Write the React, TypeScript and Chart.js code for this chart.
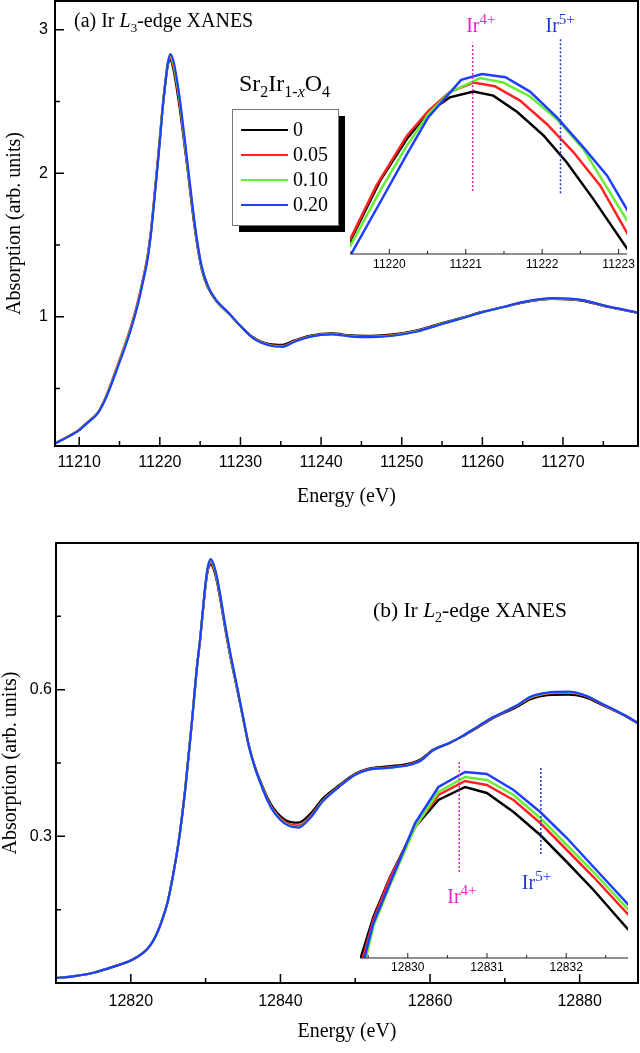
import React, { useEffect, useRef } from 'react';
import { Chart, registerables } from 'chart.js';

Chart.register(...registerables);

const SERIF = '"Liberation Serif", "Times New Roman", serif';
const SANS = '"Liberation Sans", Arial, sans-serif';

// ---------- series ----------
const SERIES_LABELS = ['0', '0.05', '0.10', '0.20'];
const SERIES_COLORS = ['#000000', '#ff2222', '#66ee33', '#1f3fff'];

// ---------- (a) Ir L3-edge, main ----------
const L3_ENERGY = [11207, 11208.5, 11210, 11211.2, 11212.3, 11213.2, 11214, 11214.8, 11215.6, 11216.4, 11217.2, 11217.9, 11218.5, 11218.9, 11219.4, 11219.9, 11220.3, 11220.7, 11221.0, 11221.3, 11221.7, 11222.1, 11222.5, 11223.0, 11223.5, 11224.0, 11224.5, 11225.2, 11226, 11227, 11228.6, 11230.1, 11231.6, 11233.6, 11235.2, 11236.7, 11238.7, 11241.3, 11243.8, 11246.3, 11248.9, 11251.9, 11255, 11257.5, 11260, 11262.6, 11265.1, 11268.7, 11272.3, 11275.3, 11279.3];
const L3_X000 = [0.120, 0.162, 0.213, 0.272, 0.330, 0.425, 0.537, 0.660, 0.785, 0.920, 1.080, 1.252, 1.420, 1.590, 1.873, 2.170, 2.425, 2.630, 2.755, 2.790, 2.720, 2.590, 2.440, 2.220, 2.000, 1.760, 1.550, 1.330, 1.200, 1.110, 1.020, 0.932, 0.856, 0.810, 0.805, 0.836, 0.869, 0.884, 0.870, 0.867, 0.877, 0.906, 0.956, 0.994, 1.034, 1.068, 1.100, 1.124, 1.113, 1.072, 1.028];
const L3_X005 = [0.120, 0.163, 0.214, 0.274, 0.333, 0.430, 0.545, 0.670, 0.795, 0.930, 1.090, 1.262, 1.435, 1.605, 1.890, 2.190, 2.440, 2.645, 2.770, 2.800, 2.740, 2.620, 2.470, 2.240, 2.010, 1.775, 1.560, 1.338, 1.205, 1.113, 1.021, 0.931, 0.853, 0.805, 0.798, 0.831, 0.866, 0.881, 0.866, 0.862, 0.872, 0.902, 0.953, 0.992, 1.033, 1.068, 1.102, 1.127, 1.116, 1.074, 1.029];
const L3_X010 = [0.119, 0.161, 0.212, 0.271, 0.329, 0.424, 0.536, 0.660, 0.783, 0.918, 1.076, 1.247, 1.417, 1.588, 1.870, 2.170, 2.430, 2.642, 2.772, 2.815, 2.760, 2.640, 2.490, 2.260, 2.020, 1.790, 1.570, 1.344, 1.208, 1.114, 1.022, 0.930, 0.851, 0.802, 0.794, 0.828, 0.864, 0.880, 0.864, 0.860, 0.870, 0.900, 0.951, 0.991, 1.032, 1.068, 1.103, 1.128, 1.117, 1.075, 1.029];
const L3_X020 = [0.118, 0.160, 0.211, 0.270, 0.327, 0.420, 0.530, 0.652, 0.775, 0.910, 1.068, 1.240, 1.408, 1.578, 1.860, 2.160, 2.420, 2.640, 2.770, 2.830, 2.780, 2.660, 2.510, 2.280, 2.040, 1.800, 1.580, 1.350, 1.210, 1.116, 1.023, 0.930, 0.850, 0.800, 0.790, 0.826, 0.862, 0.878, 0.862, 0.858, 0.868, 0.898, 0.950, 0.990, 1.032, 1.068, 1.104, 1.130, 1.118, 1.076, 1.030];
const L3_X_TICKS = [11210, 11220, 11230, 11240, 11250, 11260, 11270];
const L3_X_MINOR = [11215, 11225, 11235, 11245, 11255, 11265, 11275];
const L3_Y_TICKS = [1, 2, 3];
const L3_Y_MINOR = [0.5, 1.5, 2.5];

// ---------- (a) inset ----------
const L3I_E000 = [11219.48, 11219.88, 11220.23, 11220.51, 11220.79, 11221.10, 11221.36, 11221.67, 11222.02, 11222.32, 11222.67, 11223.12];
const L3I_X000 = [2.426, 2.563, 2.656, 2.715, 2.748, 2.761, 2.752, 2.716, 2.663, 2.604, 2.522, 2.410];
const L3I_E005 = [11219.48, 11219.83, 11220.23, 11220.51, 11220.79, 11221.10, 11221.38, 11221.71, 11222.06, 11222.41, 11222.76, 11223.12];
const L3I_X005 = [2.430, 2.552, 2.663, 2.718, 2.760, 2.781, 2.773, 2.741, 2.689, 2.626, 2.552, 2.444];
const L3I_E010 = [11219.48, 11219.88, 11220.23, 11220.51, 11220.79, 11221.19, 11221.49, 11221.84, 11222.19, 11222.54, 11223.12];
const L3I_X010 = [2.415, 2.541, 2.641, 2.711, 2.759, 2.791, 2.781, 2.750, 2.700, 2.633, 2.472];
const L3I_E020 = [11219.50, 11219.88, 11220.23, 11220.51, 11220.79, 11220.94, 11221.21, 11221.52, 11221.84, 11222.19, 11222.54, 11222.85, 11223.12];
const L3I_X020 = [2.400, 2.515, 2.622, 2.704, 2.758, 2.787, 2.800, 2.793, 2.761, 2.704, 2.637, 2.574, 2.496];
const L3I_X_TICKS = [11220, 11221, 11222, 11223];
const L3I_X_MINOR = [11219.5, 11220.5, 11221.5, 11222.5];
const L3I_IR4 = { e: 11221.09, y: [2.54, 2.87] };
const L3I_IR5 = { e: 11222.24, y: [2.535, 2.88] };

// ---------- (b) Ir L2-edge, main ----------
const L2_ENERGY = [12810, 12812.5, 12815, 12817.8, 12820, 12821.6, 12822.5, 12823.3, 12824.1, 12824.9, 12825.7, 12826.5, 12827.3, 12828.2, 12828.8, 12829.3, 12829.7, 12830.1, 12830.4, 12830.7, 12831.1, 12831.5, 12832, 12832.5, 12833.3, 12834.2, 12835, 12835.8, 12836.6, 12837.5, 12838.3, 12839.1, 12840.7, 12842.4, 12844, 12845.7, 12847.9, 12850, 12851.7, 12854.4, 12857.2, 12858.8, 12860.4, 12862.6, 12864.3, 12866.4, 12868.6, 12871.4, 12873.5, 12875.7, 12878.5, 12880.6, 12883.4, 12886.1, 12888];
const L2_X000 = [0.010, 0.014, 0.021, 0.034, 0.046, 0.061, 0.075, 0.095, 0.125, 0.164, 0.225, 0.300, 0.400, 0.539, 0.640, 0.707, 0.770, 0.826, 0.850, 0.856, 0.845, 0.822, 0.781, 0.735, 0.668, 0.602, 0.542, 0.484, 0.442, 0.406, 0.378, 0.357, 0.333, 0.328, 0.346, 0.378, 0.405, 0.428, 0.438, 0.443, 0.449, 0.458, 0.477, 0.491, 0.504, 0.523, 0.543, 0.563, 0.581, 0.589, 0.590, 0.585, 0.566, 0.546, 0.529];
const L2_X005 = [0.010, 0.014, 0.021, 0.034, 0.046, 0.061, 0.075, 0.095, 0.125, 0.164, 0.225, 0.300, 0.400, 0.539, 0.640, 0.708, 0.772, 0.828, 0.853, 0.860, 0.849, 0.826, 0.785, 0.738, 0.671, 0.604, 0.543, 0.484, 0.441, 0.404, 0.375, 0.353, 0.329, 0.322, 0.341, 0.374, 0.403, 0.427, 0.437, 0.441, 0.447, 0.456, 0.476, 0.491, 0.505, 0.524, 0.544, 0.565, 0.584, 0.592, 0.594, 0.588, 0.567, 0.547, 0.530];
const L2_X010 = [0.010, 0.014, 0.021, 0.034, 0.046, 0.061, 0.075, 0.095, 0.125, 0.164, 0.225, 0.300, 0.400, 0.539, 0.640, 0.709, 0.774, 0.830, 0.856, 0.864, 0.852, 0.829, 0.788, 0.741, 0.673, 0.606, 0.544, 0.484, 0.440, 0.403, 0.373, 0.351, 0.326, 0.319, 0.339, 0.373, 0.402, 0.426, 0.436, 0.440, 0.446, 0.455, 0.476, 0.491, 0.505, 0.525, 0.545, 0.566, 0.585, 0.593, 0.595, 0.589, 0.568, 0.547, 0.530];
const L2_X020 = [0.010, 0.014, 0.021, 0.034, 0.046, 0.061, 0.075, 0.095, 0.125, 0.164, 0.225, 0.300, 0.400, 0.539, 0.640, 0.709, 0.775, 0.832, 0.858, 0.867, 0.855, 0.832, 0.790, 0.743, 0.675, 0.607, 0.545, 0.484, 0.440, 0.402, 0.372, 0.350, 0.325, 0.318, 0.338, 0.372, 0.402, 0.426, 0.436, 0.440, 0.446, 0.455, 0.476, 0.491, 0.505, 0.525, 0.545, 0.566, 0.586, 0.594, 0.596, 0.589, 0.568, 0.547, 0.530];
const L2_X_TICKS = [12820, 12840, 12860, 12880];
const L2_X_MINOR = [12830, 12850, 12870];
const L2_Y_TICKS = [0.3, 0.6];
const L2_Y_MINOR = [0.15, 0.45, 0.75];

// ---------- (b) inset ----------
const L2I_E000 = [12829.406, 12829.566, 12829.777, 12830.093, 12830.387, 12830.724, 12830.998, 12831.335, 12831.672, 12832.008, 12832.345, 12832.787];
const L2I_X000 = [0.680, 0.721, 0.761, 0.811, 0.838, 0.851, 0.845, 0.826, 0.803, 0.776, 0.748, 0.708];
const L2I_E005 = [12829.430, 12829.566, 12829.777, 12830.093, 12830.387, 12830.724, 12830.998, 12831.335, 12831.672, 12832.008, 12832.345, 12832.787];
const L2I_X005 = [0.679, 0.718, 0.760, 0.811, 0.843, 0.857, 0.853, 0.838, 0.815, 0.788, 0.761, 0.723];
const L2I_E010 = [12829.470, 12829.566, 12829.777, 12830.093, 12830.387, 12830.724, 12830.998, 12831.335, 12831.672, 12832.008, 12832.345, 12832.787];
const L2I_X010 = [0.679, 0.712, 0.753, 0.811, 0.846, 0.861, 0.858, 0.843, 0.820, 0.793, 0.766, 0.728];
const L2I_E020 = [12829.450, 12829.566, 12829.777, 12830.093, 12830.387, 12830.724, 12830.998, 12831.335, 12831.672, 12832.008, 12832.345, 12832.787];
const L2I_X020 = [0.679, 0.715, 0.755, 0.815, 0.851, 0.866, 0.864, 0.848, 0.826, 0.800, 0.771, 0.733];
const L2I_X_TICKS = [12830, 12831, 12832];
const L2I_X_MINOR = [12829.5, 12830.5, 12831.5, 12832.5];
const L2I_IR4 = { e: 12830.65, y: [0.766, 0.876] };
const L2I_IR5 = { e: 12831.68, y: [0.784, 0.872] };

const IR4_COLOR = '#ea22c8';
const IR5_COLOR = '#2238d0';

// ---------- helpers ----------
type Seg = { t: string; size: number; italic?: boolean; dy?: number };

function drawRich(ctx: CanvasRenderingContext2D, x: number, y: number, segs: Seg[], color: string) {
  let cx = x;
  ctx.textBaseline = 'alphabetic';
  ctx.textAlign = 'left';
  ctx.fillStyle = color;
  for (const s of segs) {
    ctx.font = `${s.italic ? 'italic ' : ''}${s.size}px ${SERIF}`;
    ctx.fillText(s.t, cx, y + (s.dy || 0));
    cx += ctx.measureText(s.t).width;
  }
}

function pts(xs: number[], ys: number[]) {
  return xs.map((x, i) => ({ x, y: ys[i] }));
}

function curveSets(xsList: number[][], ysList: number[][], width: number, smooth: boolean) {
  return SERIES_LABELS.map((label, i) => ({
    label,
    data: pts(xsList[i], ysList[i]),
    borderColor: SERIES_COLORS[i],
    backgroundColor: SERIES_COLORS[i],
    borderWidth: width,
    pointRadius: 0,
    fill: false,
    tension: smooth ? 0.4 : 0,
    cubicInterpolationMode: smooth ? 'monotone' : 'default',
    order: 3 - i,
  }));
}

function dottedSet(mark: { e: number; y: number[] }, color: string) {
  return {
    label: '',
    data: [{ x: mark.e, y: mark.y[0] }, { x: mark.e, y: mark.y[1] }],
    borderColor: color,
    borderWidth: 1.5,
    borderDash: [2, 2],
    pointRadius: 0,
    fill: false,
    order: -1,
  };
}

type DecorCfg = {
  frame: boolean;
  xMinor: number[];
  yMinor?: number[];
  majorLen: number;
  minorLen: number;
  tickWidth: number;
  lineWidth: number;
  lineColor: string;
  extra?: (chart: any) => void;
};

function decorPlugin(cfg: DecorCfg) {
  return {
    id: 'decor',
    afterDraw(chart: any) {
      const { ctx, chartArea: a, scales } = chart;
      const xs = scales.x;
      const ys = scales.y;
      ctx.save();
      ctx.strokeStyle = cfg.lineColor;
      ctx.lineWidth = cfg.lineWidth;
      ctx.beginPath();
      if (cfg.frame) ctx.rect(a.left, a.top, a.right - a.left, a.bottom - a.top);
      else {
        ctx.moveTo(a.left, a.bottom);
        ctx.lineTo(a.right, a.bottom);
      }
      ctx.stroke();
      ctx.lineWidth = cfg.tickWidth;
      ctx.beginPath();
      const tickX = (v: number, len: number) => {
        const p = xs.getPixelForValue(v);
        ctx.moveTo(p, a.bottom);
        ctx.lineTo(p, a.bottom - len);
      };
      xs.ticks.forEach((t: any) => tickX(t.value, cfg.majorLen));
      cfg.xMinor.forEach((v) => tickX(v, cfg.minorLen));
      if (cfg.yMinor) {
        const tickY = (v: number, len: number) => {
          const p = ys.getPixelForValue(v);
          ctx.moveTo(a.left, p);
          ctx.lineTo(a.left + len, p);
        };
        ys.ticks.forEach((t: any) => tickY(t.value, cfg.majorLen));
        cfg.yMinor.forEach((v) => tickY(v, cfg.minorLen));
      }
      ctx.stroke();
      if (cfg.extra) cfg.extra(chart);
      ctx.restore();
    },
  };
}

function mainOptions(p: {
  xMin: number; xMax: number; yMin: number; yMax: number;
  xTicks: number[]; yTicks: number[];
  xHeight: number; yWidth: number; top: number;
  xTickPad: number; yTickPad: number; xTitlePad: number; yTitlePad: number;
}) {
  return {
    animation: false,
    responsive: false,
    events: [],
    layout: { padding: { top: p.top, right: 2, left: 0, bottom: 0 } },
    plugins: { legend: { display: false }, tooltip: { enabled: false } },
    scales: {
      x: {
        type: 'linear',
        bounds: 'data',
        min: p.xMin,
        max: p.xMax,
        afterBuildTicks: (s: any) => { s.ticks = p.xTicks.map((v) => ({ value: v })); },
        afterFit: (s: any) => { s.height = p.xHeight; s.paddingLeft = 0; s.paddingRight = 0; },
        grid: { display: false, drawTicks: false },
        border: { display: false },
        ticks: {
          autoSkip: false, maxRotation: 0, padding: p.xTickPad, color: '#000',
          font: { family: SANS, size: 16 },
          callback: (v: any) => String(v),
        },
        title: {
          display: true, text: 'Energy (eV)', color: '#000',
          font: { family: SERIF, size: 20 }, padding: { top: 0, bottom: p.xTitlePad },
        },
      },
      y: {
        type: 'linear',
        bounds: 'data',
        min: p.yMin,
        max: p.yMax,
        afterBuildTicks: (s: any) => { s.ticks = p.yTicks.map((v) => ({ value: v })); },
        afterFit: (s: any) => { s.width = p.yWidth; s.paddingTop = 0; s.paddingBottom = 0; },
        grid: { display: false, drawTicks: false },
        border: { display: false },
        ticks: {
          padding: p.yTickPad, color: '#000',
          font: { family: SANS, size: 16 },
          callback: (v: any) => String(v),
        },
        title: {
          display: true, text: 'Absorption (arb. units)', color: '#000',
          font: { family: SERIF, size: 20 }, padding: { top: p.yTitlePad, bottom: 0 },
        },
      },
    },
  };
}

function insetOptions(p: {
  xMin: number; xMax: number; yMin: number; yMax: number; xTicks: number[];
  top: number; left: number; right: number; xHeight: number; tickPad: number;
}) {
  return {
    animation: false,
    responsive: false,
    events: [],
    layout: { padding: { top: p.top, right: p.right, left: p.left, bottom: 0 } },
    plugins: { legend: { display: false }, tooltip: { enabled: false } },
    scales: {
      x: {
        type: 'linear',
        bounds: 'data',
        min: p.xMin,
        max: p.xMax,
        afterBuildTicks: (s: any) => { s.ticks = p.xTicks.map((v) => ({ value: v })); },
        afterFit: (s: any) => { s.height = p.xHeight; s.paddingLeft = 0; s.paddingRight = 0; },
        grid: { display: false, drawTicks: false },
        border: { display: false },
        ticks: {
          autoSkip: false, maxRotation: 0, padding: p.tickPad, color: '#000',
          font: { family: SANS, size: 12 },
          callback: (v: any) => String(v),
        },
      },
      y: { type: 'linear', display: false, bounds: 'data', min: p.yMin, max: p.yMax },
    },
  };
}

const TITLE_A: Seg[] = [
  { t: '(a) Ir ', size: 20 },
  { t: 'L', size: 20, italic: true },
  { t: '3', size: 13, dy: 5 },
  { t: '-edge XANES', size: 20 },
];
const TITLE_B: Seg[] = [
  { t: '(b) Ir ', size: 21.5 },
  { t: 'L', size: 21.5, italic: true },
  { t: '2', size: 14, dy: 5 },
  { t: '-edge XANES', size: 21.5 },
];
const FORMULA: Seg[] = [
  { t: 'Sr', size: 24 },
  { t: '2', size: 16, dy: 6 },
  { t: 'Ir', size: 24 },
  { t: '1-', size: 16, dy: 6 },
  { t: 'x', size: 16, italic: true, dy: 6 },
  { t: 'O', size: 24 },
  { t: '4', size: 16, dy: 6 },
];
const IR4: Seg[] = [{ t: 'Ir', size: 20 }, { t: '4+', size: 15, dy: -8 }];
const IR5: Seg[] = [{ t: 'Ir', size: 20 }, { t: '5+', size: 15, dy: -8 }];

export default function App() {
  const mainA = useRef<HTMLCanvasElement>(null);
  const insetA = useRef<HTMLCanvasElement>(null);
  const mainB = useRef<HTMLCanvasElement>(null);
  const insetB = useRef<HTMLCanvasElement>(null);

  useEffect(() => {
    const charts: Chart[] = [];

    // ----- panel (a) main -----
    charts.push(new Chart(mainA.current as HTMLCanvasElement, {
      type: 'line',
      data: {
        datasets: curveSets([L3_ENERGY, L3_ENERGY, L3_ENERGY, L3_ENERGY], [L3_X000, L3_X005, L3_X010, L3_X020], 2.2, true) as any,
      },
      options: mainOptions({
        xMin: 11207, xMax: 11279.3, yMin: 0.1, yMax: 3.2,
        xTicks: L3_X_TICKS, yTicks: L3_Y_TICKS,
        xHeight: 74, yWidth: 55, top: 1,
        xTickPad: 7, yTickPad: 7, xTitlePad: 11, yTitlePad: 3,
      }) as any,
      plugins: [decorPlugin({
        frame: true, xMinor: L3_X_MINOR, yMinor: L3_Y_MINOR,
        majorLen: 9, minorLen: 5, tickWidth: 1.5, lineWidth: 2, lineColor: '#000',
        extra: (chart: any) => {
          const ctx: CanvasRenderingContext2D = chart.ctx;
          drawRich(ctx, 74, 27, TITLE_A, '#000');
          drawRich(ctx, 239, 91, FORMULA, '#000');
          ctx.fillStyle = '#000';
          ctx.fillRect(239, 116, 106, 116);
          ctx.fillStyle = '#fff';
          ctx.fillRect(232, 109, 106, 116);
          ctx.strokeStyle = '#777';
          ctx.lineWidth = 1;
          ctx.strokeRect(232.5, 109.5, 106, 116);
          SERIES_LABELS.forEach((lab, i) => {
            const y = 130 + i * 25;
            ctx.strokeStyle = SERIES_COLORS[i];
            ctx.lineWidth = 2;
            ctx.beginPath();
            ctx.moveTo(241, y);
            ctx.lineTo(288, y);
            ctx.stroke();
            ctx.fillStyle = '#000';
            ctx.font = `20px ${SERIF}`;
            ctx.textBaseline = 'middle';
            ctx.textAlign = 'left';
            ctx.fillText(lab, 293, y + 1);
          });
        },
      })],
    }));

    // ----- panel (a) inset -----
    charts.push(new Chart(insetA.current as HTMLCanvasElement, {
      type: 'line',
      data: {
        datasets: [
          ...curveSets([L3I_E000, L3I_E005, L3I_E010, L3I_E020], [L3I_X000, L3I_X005, L3I_X010, L3I_X020], 2.5, false),
          dottedSet(L3I_IR4, IR4_COLOR),
          dottedSet(L3I_IR5, IR5_COLOR),
        ] as any,
      },
      options: insetOptions({
        xMin: 11219.485, xMax: 11223.11, yMin: 2.40, yMax: 2.92, xTicks: L3I_X_TICKS,
        top: 20, left: 10, right: 13, xHeight: 36, tickPad: 3,
      }) as any,
      plugins: [decorPlugin({
        frame: false, xMinor: L3I_X_MINOR,
        majorLen: 5, minorLen: 3, tickWidth: 1, lineWidth: 1, lineColor: '#222',
        extra: (chart: any) => {
          const ctx: CanvasRenderingContext2D = chart.ctx;
          const xs = chart.scales.x;
          drawRich(ctx, xs.getPixelForValue(L3I_IR4.e) - 6.5, 31.5, IR4, IR4_COLOR);
          drawRich(ctx, xs.getPixelForValue(L3I_IR5.e) - 15, 31.5, IR5, IR5_COLOR);
        },
      })],
    }));

    // ----- panel (b) main -----
    charts.push(new Chart(mainB.current as HTMLCanvasElement, {
      type: 'line',
      data: {
        datasets: curveSets([L2_ENERGY, L2_ENERGY, L2_ENERGY, L2_ENERGY], [L2_X000, L2_X005, L2_X010, L2_X020], 2.2, true) as any,
      },
      options: mainOptions({
        xMin: 12810, xMax: 12887.8, yMin: 0, yMax: 0.9,
        xTicks: L2_X_TICKS, yTicks: L2_Y_TICKS,
        xHeight: 70, yWidth: 56, top: 23,
        xTickPad: 9, yTickPad: 4, xTitlePad: 9, yTitlePad: -1,
      }) as any,
      plugins: [decorPlugin({
        frame: true, xMinor: L2_X_MINOR, yMinor: L2_Y_MINOR,
        majorLen: 9, minorLen: 5, tickWidth: 1.5, lineWidth: 2, lineColor: '#000',
        extra: (chart: any) => {
          drawRich(chart.ctx, 373, 97, TITLE_B, '#000');
        },
      })],
    }));

    // ----- panel (b) inset -----
    charts.push(new Chart(insetB.current as HTMLCanvasElement, {
      type: 'line',
      data: {
        datasets: [
          ...curveSets([L2I_E000, L2I_E005, L2I_E010, L2I_E020], [L2I_X000, L2I_X005, L2I_X010, L2I_X020], 2.5, false),
          dottedSet(L2I_IR4, IR4_COLOR),
          dottedSet(L2I_IR5, IR5_COLOR),
        ] as any,
      },
      options: insetOptions({
        xMin: 12829.397, xMax: 12832.78, yMin: 0.68, yMax: 0.898, xTicks: L2I_X_TICKS,
        top: 10, left: 20, right: 12, xHeight: 52, tickPad: 2,
      }) as any,
      plugins: [decorPlugin({
        frame: false, xMinor: L2I_X_MINOR,
        majorLen: 5, minorLen: 3, tickWidth: 1, lineWidth: 1, lineColor: '#222',
        extra: (chart: any) => {
          const ctx: CanvasRenderingContext2D = chart.ctx;
          const xs = chart.scales.x;
          drawRich(ctx, xs.getPixelForValue(L2I_IR4.e) - 12, 173, IR4, IR4_COLOR);
          drawRich(ctx, xs.getPixelForValue(L2I_IR5.e) - 19, 159, IR5, IR5_COLOR);
        },
      })],
    }));

    return () => { charts.forEach((c) => c.destroy()); };
  }, []);

  const abs = (left: number, top: number, w: number, h: number): React.CSSProperties => ({
    position: 'absolute', left, top, width: w, height: h, display: 'block',
  });

  return (
    <div style={{ position: 'absolute', left: 0, top: 0, width: 640, height: 1053, background: '#fff', overflow: 'hidden' }}>
      <canvas ref={mainA} width={640} height={520} style={abs(0, 0, 640, 520)} />
      <canvas ref={insetA} width={300} height={290} style={abs(340, 0, 300, 290)} />
      <canvas ref={mainB} width={640} height={533} style={abs(0, 520, 640, 533)} />
      <canvas ref={insetB} width={300} height={280} style={abs(340, 730, 300, 280)} />
    </div>
  );
}
